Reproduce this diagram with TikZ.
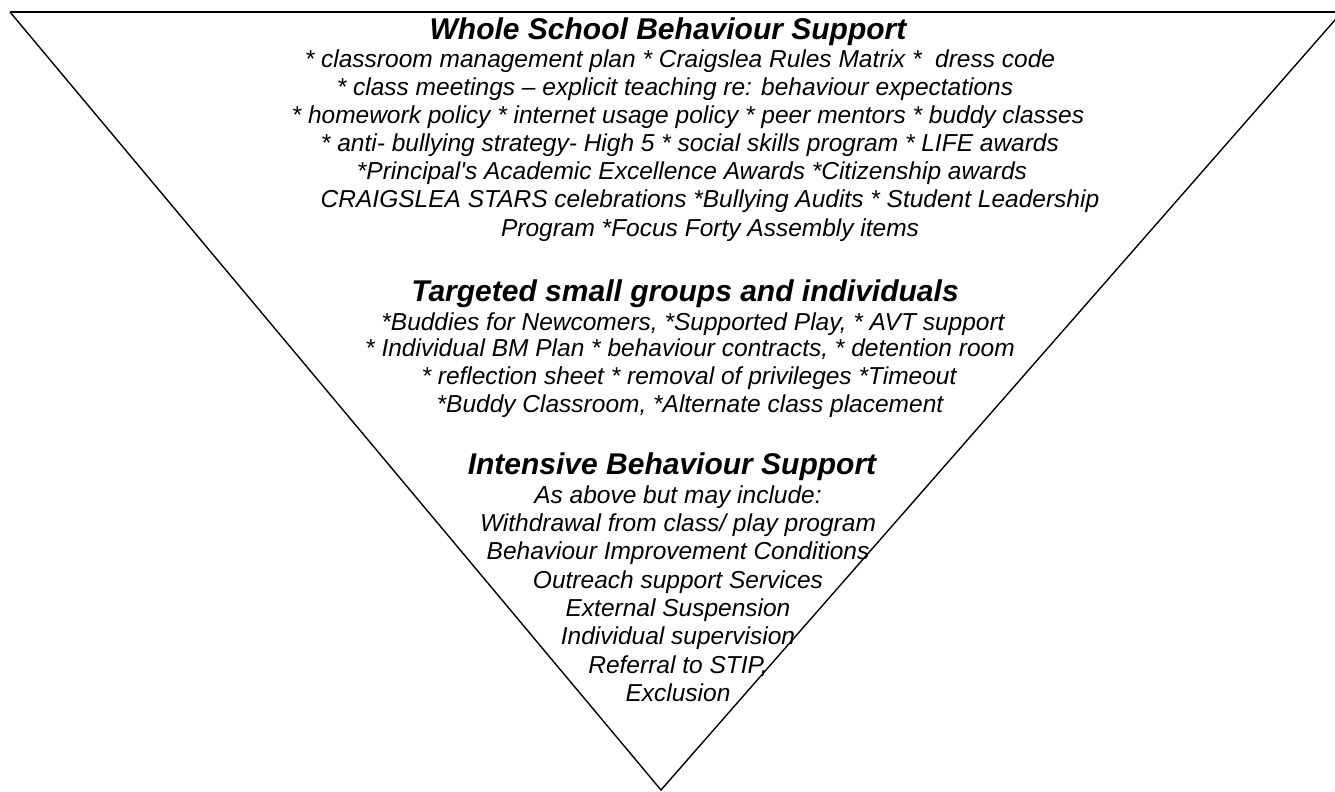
\documentclass[tikz,border=0pt]{standalone}
\usepackage{fontspec}
\setmainfont{Liberation Sans}
\usetikzlibrary{calc}

\tikzset{
  head/.style={anchor=base,inner sep=0pt,font=\fontsize{15}{18}\selectfont\bfseries\itshape},
  item/.style={anchor=base,inner sep=0pt,font=\fontsize{12.25}{14}\selectfont\itshape}
}

\begin{document}
\begin{tikzpicture}[x=0.5pt,y=-0.5pt]
%\draw[help lines,step=50] (0,0) grid (1335,792);
\useasboundingbox (0,0) rectangle (1335,792);
\clip (0,0) rectangle (1335,792);

\coordinate (tl) at (10,12);
\coordinate (tr) at (1342,12);
\coordinate (apex) at (661,790);

\draw[line width=1pt] (tl) -- (1335,12);
\draw[line width=0.7pt] (tl) -- (apex) -- (tr);

\node[head] (whole) at (668,40) {Whole School Behaviour Support};
\node[item] (w1) at (680,68) {* classroom management plan * Craigslea Rules Matrix *\ \ dress code};
\node[item] (w2) at (675,96) {* class meetings -- explicit teaching re: behaviour expectations};
\node[item] (w3) at (688,124) {* homework policy * internet usage policy * peer mentors * buddy classes};
\node[item] (w4) at (690,152) {* anti- bullying strategy- High 5 * social skills program * LIFE awards};
\node[item] (w5) at (692,180) {*Principal\textquotesingle s Academic Excellence Awards *Citizenship awards};
\node[item] (w6) at (710,208) {CRAIGSLEA STARS celebrations *Bullying Audits * Student Leadership};
\node[item] (w7) at (710,236) {Program *Focus Forty Assembly items};

\node[head] (targeted) at (685,301) {Targeted small groups and individuals};
\node[item] (t1) at (693,330) {*Buddies for Newcomers, *Supported Play, * AVT support};
\node[item] (t2) at (690,357) {* Individual BM Plan * behaviour contracts, * detention room};
\node[item] (t3) at (689,384) {* reflection sheet * removal of privileges *Timeout};
\node[item] (t4) at (690,412) {*Buddy Classroom, *Alternate class placement};

\node[head] (intensive) at (672,474) {Intensive Behaviour Support};
\node[item] (i1) at (678,503) {As above but may include:};
\node[item] (i2) at (678,531) {Withdrawal from class/ play program};
\node[item] (i3) at (678,559) {Behaviour Improvement Conditions};
\node[item] (i4) at (678,588) {Outreach support Services};
\node[item] (i5) at (678,616) {External Suspension};
\node[item] (i6) at (678,644) {Individual supervision};
\node[item] (i7) at (678,673) {Referral to STIP,};
\node[item] (i8) at (678,701) {Exclusion};
\end{tikzpicture}
\end{document}
